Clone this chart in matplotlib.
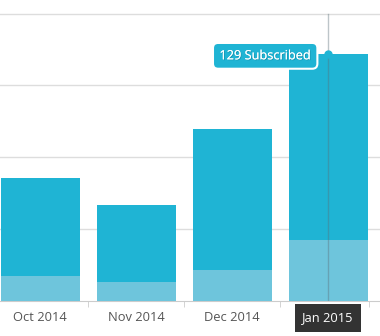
import matplotlib
matplotlib.use("Agg")
import matplotlib.pyplot as plt
import matplotlib.patheffects as pe
import numpy as np

plt.rcParams['font.family'] = ['Open Sans', 'DejaVu Sans']

months = ["Oct 2014", "Nov 2014", "Dec 2014", "Jan 2015"]
subscribed = [64, 50, 90, 129]
confirmed = [13, 10, 16, 32]
grid_levels = [37.5, 75, 112.5, 150]
active = 3  # hovered month

teal = "#1fb4d4"
teal_light = "#6ec5dc"

fig = plt.figure(figsize=(3.8, 3.36), dpi=100)
ax = fig.add_axes([0, 35.0 / 336, 1, 301.0 / 336])

x = np.arange(len(months))
ax.bar(x, subscribed, width=0.82, color=teal, zorder=2)
ax.bar(x, confirmed, width=0.82, color=teal_light, zorder=3)

for g in grid_levels:
    ax.axhline(g, color="#dddddd", lw=1, zorder=1)

ax.set_xlim(-0.42, 3.54)
ax.set_ylim(0, 157.1)

# hover crosshair and point
ax.plot([active, active], [0, grid_levels[-1]], color="#5a6f78", alpha=0.4,
        lw=1, zorder=4)
ax.plot(active, subscribed[active], "o", ms=5, color=teal, zorder=5,
        clip_on=False)

tip = ax.annotate(f"{subscribed[active]} Subscribed",
                  xy=(active, subscribed[active]), xytext=(-63, -2),
                  textcoords="offset pixels", ha="center", va="center",
                  fontsize=9.2, color="white", zorder=6,
                  bbox=dict(boxstyle="round,pad=0.5,rounding_size=0.4",
                            fc=teal, ec="white", lw=1.5))
tip.set_path_effects([pe.withSimplePatchShadow(offset=(0.6, -0.6),
                                               shadow_rgbFace="#0a4f60",
                                               alpha=0.35), pe.Normal()])

for s in ["top", "right", "left"]:
    ax.spines[s].set_visible(False)
ax.spines["bottom"].set_color("#cccccc")
ax.set_yticks([])

ax.set_xticks(x)
ax.set_xticklabels(months, fontsize=9.3, color="#555555")
ax.tick_params(axis="x", which="major", length=0, pad=7.5)
ax.set_xticks(list(x[:-1] + 0.5) + [3.43], minor=True)
ax.tick_params(axis="x", which="minor", length=4, color="#cccccc")

lab = ax.get_xticklabels()[active]
lab.set_color("white")
lab.set_bbox(dict(boxstyle="square,pad=0.55", fc="#333333", ec="none"))

fig.savefig("out.png", dpi=100)
